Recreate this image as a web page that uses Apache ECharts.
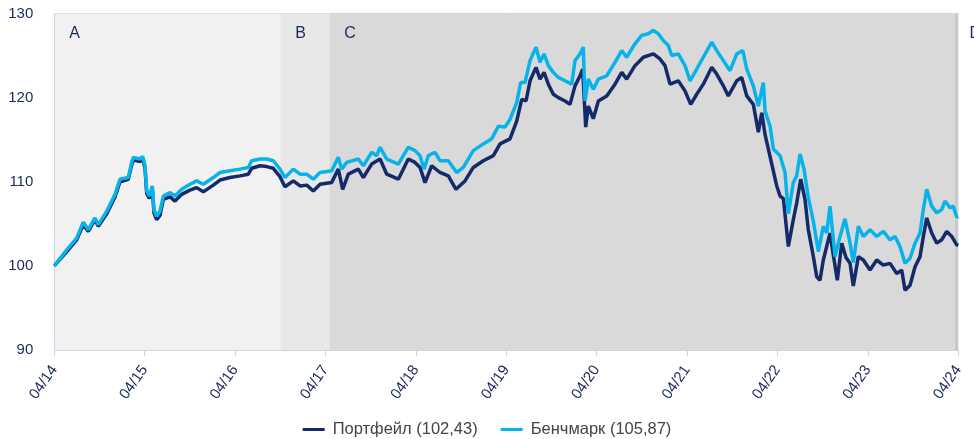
<!DOCTYPE html>
<html>
<head>
<meta charset="utf-8">
<script src="https://cdn.jsdelivr.net/npm/echarts@6/dist/echarts.min.js"></script>
<style>
html,body{margin:0;padding:0;background:#fff;}
#chart{width:974px;height:439px;}
</style>
</head>
<body>
<div id="chart"></div>
<script>
// x positions are months since 04/2014
const tickLabels = ['04/14','04/15','04/16','04/17','04/18','04/19','04/20','04/21','04/22','04/23','04/24'];
const seriesNames = ['Портфейл (102,43)', 'Бенчмарк (105,87)'];

const portMonths = [0,1.65,2.97,3.85,4.51,5.40,5.84,6.96,8.06,8.72,9.82,10.27,10.49,11.38,11.73,12.04,12.27,12.61,13.01,13.23,13.59,14.03,14.47,15.36,16.02,16.91,18.01,18.90,19.78,21.11,22.00,23.32,24.65,25.75,26.20,27.31,28.20,29.07,29.96,30.62,31.73,32.62,33.51,34.38,35.27,36.82,37.70,38.28,39.03,40.36,41.02,42.13,43.24,44.13,45.67,46.99,47.88,48.55,49.21,50.10,51.20,52.30,53.32,54.52,55.62,56.95,58.28,59.17,60.49,61.38,62.05,62.62,63.15,63.94,64.48,65.01,65.58,66.24,66.91,67.80,68.46,69.12,69.79,70.14,70.54,70.89,71.55,72.22,73.33,74.43,75.32,75.98,77.08,78.19,79.52,80.40,81.07,81.73,82.83,83.72,84.48,85.28,86.15,87.27,87.93,88.81,89.47,90.59,91.25,91.92,92.79,93.46,93.91,94.35,95.01,95.90,96.34,96.78,97.44,98.10,98.55,99.08,99.65,100.09,100.76,101.21,101.64,102.08,102.97,103.37,103.94,104.53,105.09,105.63,106.06,106.73,107.39,108.28,109.17,110.05,110.94,111.83,112.49,112.93,113.59,114.26,114.92,115.36,115.81,116.47,117.14,117.80,118.46,119.13,119.79,120.0];
const portValues = [100.0,101.7,103.1,104.9,104.1,105.5,104.7,106.2,108.2,110.0,110.3,112.0,112.6,112.4,112.7,111.6,108.6,108.0,109.2,106.3,105.5,106.0,107.9,108.2,107.7,108.5,109.0,109.3,108.8,109.6,110.2,110.5,110.7,110.9,111.6,111.9,111.8,111.6,110.6,109.4,110.1,109.5,109.6,108.9,109.7,109.9,111.5,109.1,110.9,111.5,110.5,112.1,112.7,110.9,110.3,112.7,112.3,111.7,109.9,111.9,111.1,110.7,109.1,110.1,111.7,112.5,113.1,114.5,115.1,117.2,119.8,119.6,122.0,123.6,122.2,123.0,121.6,120.4,120.0,119.6,119.2,121.4,122.6,123.4,116.5,119.0,117.5,119.6,120.2,121.6,123.0,122.2,123.8,124.8,125.2,124.6,123.8,121.6,122.0,120.8,119.2,120.4,121.6,123.6,122.8,121.4,120.2,122.0,122.4,120.2,119.2,115.9,118.2,115.6,113.0,109.5,108.3,108.0,102.3,105.5,107.5,110.3,107.9,104.3,101.1,98.7,98.3,100.7,103.9,101.5,98.3,102.7,101.0,100.3,97.6,101.1,100.7,99.5,100.7,100.1,100.3,99.1,99.5,97.1,97.7,99.9,101.1,103.5,105.7,103.9,102.7,103.1,104.1,103.5,102.5,102.43];

const benchMonths = [0,1.65,2.97,3.85,4.51,5.40,5.84,6.96,8.06,8.72,9.82,10.27,10.49,11.38,11.73,12.04,12.27,12.61,13.01,13.23,13.59,14.03,14.47,15.36,16.02,16.91,18.01,18.90,19.78,21.11,22.00,23.32,24.65,25.75,26.20,27.31,28.20,29.07,29.96,30.62,31.73,32.62,33.51,34.38,35.27,36.82,37.70,38.15,38.82,40.36,41.02,42.13,42.80,43.24,44.13,45.67,46.99,47.88,48.55,49.08,49.65,50.54,51.20,52.30,53.42,54.29,55.62,56.95,58.06,58.94,59.83,60.49,61.38,61.91,62.48,63.15,63.94,64.48,65.01,65.58,66.24,66.91,67.80,68.68,69.12,69.79,70.22,70.45,70.89,71.55,72.22,73.33,74.43,75.32,75.98,77.08,77.97,78.85,79.52,80.18,80.84,81.51,81.96,82.83,83.72,84.39,85.28,86.15,87.27,87.93,88.81,89.70,90.59,91.39,91.92,92.79,93.46,94.12,94.35,95.01,95.45,96.34,97.00,97.44,98.10,98.55,98.99,99.52,100.09,100.76,101.42,102.08,102.54,102.97,103.64,104.30,104.96,105.63,106.06,106.73,107.39,108.28,109.17,110.05,110.94,111.60,112.26,112.93,113.59,114.26,114.92,115.36,115.81,116.47,117.14,117.80,118.24,118.90,119.34,119.79,120.0];
const benchValues = [100.0,101.9,103.3,105.2,104.3,105.7,104.9,106.5,108.5,110.3,110.5,112.3,112.9,112.7,113.0,111.9,108.9,108.3,109.5,106.7,105.9,106.5,108.3,108.7,108.3,109.1,109.7,110.1,109.7,110.5,111.1,111.3,111.5,111.7,112.5,112.7,112.7,112.5,111.5,110.5,111.5,110.9,110.9,110.3,111.1,111.3,112.9,111.5,112.3,112.7,111.9,113.5,113.1,114.1,112.7,112.1,114.1,113.7,113.1,111.5,113.1,113.5,112.5,112.5,111.1,111.7,113.7,114.5,115.1,116.6,116.5,117.4,119.4,121.8,121.8,124.4,126.0,124.2,125.2,123.8,123.0,122.4,122.0,121.6,124.4,125.2,126.0,119.6,122.2,121.0,122.2,122.6,124.2,125.6,124.8,126.4,127.4,127.6,128.0,127.6,126.8,126.2,125.0,125.2,123.8,122.0,123.4,124.8,126.6,125.6,124.4,123.2,125.2,125.6,123.4,121.4,119.0,121.8,118.4,116.6,113.9,113.1,111.1,106.2,109.9,110.7,113.3,111.5,108.1,105.3,101.7,104.7,103.9,107.1,101.1,103.5,105.6,102.7,100.4,104.7,103.5,104.3,103.5,104.1,103.1,103.5,102.3,100.3,100.9,102.7,103.9,106.7,109.1,107.1,106.3,106.7,107.7,106.9,107.1,105.8,105.87];

// period regions (months since 04/2014)
const regionNames = ['A','B','C','D'];
const regionStarts = [0, 30, 36.5, 119.5];
const regionEnds = [30, 36.5, 119.5, 120];
const regionColors = ['#f1f1f1','#e8e8e8','#d9d9d9','#c9c9c9'];

const navy = '#142a69';
const cyan = '#08b3ea';
const textNavy = '#1b2a5c';

const chart = echarts.init(document.getElementById('chart'), null, {renderer:'canvas'});
const zip = (xs, ys) => xs.map((x, i) => [x, ys[i]]);

chart.setOption({
  animation: false,
  textStyle: {fontFamily: 'Liberation Sans, Arial, sans-serif'},
  grid: {left: 54.3, right: 15.7, top: 13.5, bottom: 89, containLabel: false},
  legend: {
    data: seriesNames,
    left: 'center',
    top: 416,
    itemWidth: 22,
    itemHeight: 3,
    itemGap: 23,
    icon: 'rect',
    textStyle: {fontSize: 16.5, color: '#444', padding: [0, 0, 0, 3], fontFamily: 'Liberation Sans, Arial, sans-serif'}
  },
  xAxis: {
    type: 'value', min: 0, max: 120, interval: 12, z: 1,
    axisLine: {show: true, lineStyle: {color: '#c6d5e8', width: 1}},
    axisTick: {show: true, length: 6, lineStyle: {color: '#c6d5e8'}},
    splitLine: {show: false},
    axisLabel: {
      rotate: 55, margin: 17, fontSize: 15, color: textNavy,
      formatter: v => tickLabels[Math.round(v / 12)]
    }
  },
  yAxis: {
    type: 'value', min: 90, max: 130, interval: 10, z: 1,
    axisLine: {show: true, lineStyle: {color: '#c6d5e8', width: 1}},
    axisTick: {show: false},
    splitLine: {show: true, lineStyle: {color: '#c6d5e8', width: 1}},
    axisLabel: {margin: 21, fontSize: 15, color: textNavy}
  },
  series: [
    {
      name: '__regions', type: 'line', data: [], z: 0, silent: true,
      markArea: {
        silent: true,
        label: {show: true, position: [15, 12], fontSize: 16, color: textNavy},
        data: regionNames.map((n, i) => [
          {name: n, xAxis: regionStarts[i], itemStyle: {color: regionColors[i]}},
          {xAxis: regionEnds[i]}
        ])
      }
    },
    {
      name: seriesNames[0], type: 'line', data: zip(portMonths, portValues),
      showSymbol: false, symbol: 'none', z: 3,
      lineStyle: {color: navy, width: 3.5}, itemStyle: {color: navy}
    },
    {
      name: seriesNames[1], type: 'line', data: zip(benchMonths, benchValues),
      showSymbol: false, symbol: 'none', z: 4,
      lineStyle: {color: cyan, width: 3.5}, itemStyle: {color: cyan}
    }
  ]
});
</script>
</body>
</html>
